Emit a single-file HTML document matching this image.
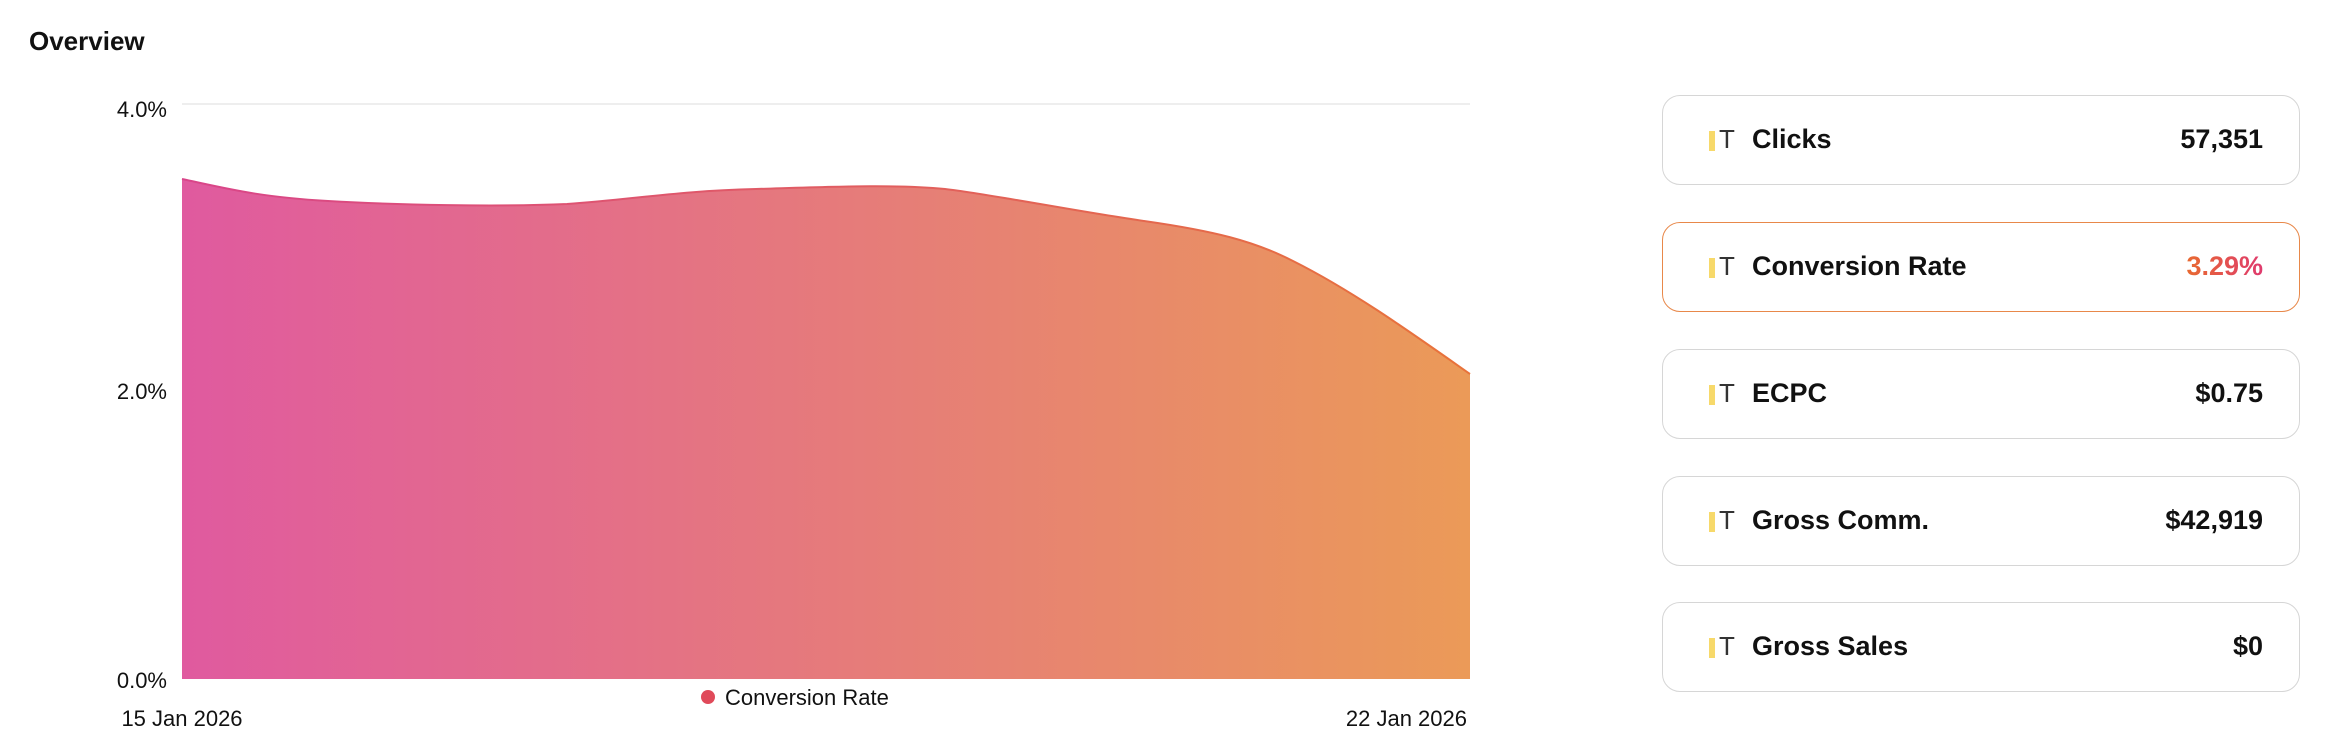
<!DOCTYPE html>
<html><head><meta charset="utf-8"><style>
body{margin:0;width:2340px;height:756px;background:#fff;font-family:"Liberation Sans",sans-serif;overflow:hidden;position:relative}
.t{position:absolute;color:#111}
.card{position:absolute;left:1662px;width:636px;height:88px;border:1.5px solid #d6d6d6;border-radius:18px;box-sizing:content-box}
.card .bar{position:absolute;left:46px;top:35px;width:6px;height:20px;background:#f7d96a}
.card .T{position:absolute;left:56px;top:28px;font-size:26px;color:#333}
.card .l{position:absolute;left:89px;top:28px;font-size:27px;font-weight:bold;color:#111}
.card .v{position:absolute;right:36px;top:28px;font-size:27px;font-weight:bold;color:#111}
</style></head><body>
<div class="t" style="left:29px;top:26px;font-size:26px;font-weight:bold">Overview</div>
<svg width="2340" height="756" style="position:absolute;left:0;top:0">
<defs><linearGradient id="g" x1="0" x2="1"><stop offset="0" stop-color="#e05a9f"/><stop offset="1" stop-color="#eb9a58"/></linearGradient>
<linearGradient id="g2" x1="0" x2="1"><stop offset="0" stop-color="#d9458a"/><stop offset="1" stop-color="#e8733a"/></linearGradient></defs>
<line x1="182" y1="104" x2="1470" y2="104" stroke="#eeeeee" stroke-width="2"/>
<path d="M182,179 C229,189 259,197 328,201 C398,205 497,207 567,204 C637,199 677,191 756,189 C826,187 895,184 945,189 C995,195 1074,211 1144,221 C1214,231 1254,241 1293,261 C1353,291 1413,334 1470,374 L1470,679 L182,679 Z" fill="url(#g)"/>
<path d="M182,179 C229,189 259,197 328,201 C398,205 497,207 567,204 C637,199 677,191 756,189 C826,187 895,184 945,189 C995,195 1074,211 1144,221 C1214,231 1254,241 1293,261 C1353,291 1413,334 1470,374" fill="none" stroke="url(#g2)" stroke-width="2"/>
<g font-family="Liberation Sans" font-size="22" fill="#111" text-anchor="end">
<text x="167" y="117">4.0%</text><text x="167" y="399">2.0%</text><text x="167" y="688">0.0%</text></g>
<circle cx="708" cy="697" r="7" fill="#e04a5a"/>
<text x="725" y="705" font-family="Liberation Sans" font-size="22" fill="#111">Conversion Rate</text>
<text x="182" y="726" font-family="Liberation Sans" font-size="22" fill="#111" text-anchor="middle">15 Jan 2026</text>
<text x="1467" y="726" font-family="Liberation Sans" font-size="22" fill="#111" text-anchor="end">22 Jan 2026</text>
</svg>
<div class="card" style="top:95px"><div class="bar"></div><div class="T">T</div><div class="l">Clicks</div><div class="v">57,351</div></div>
<div class="card" style="top:222px;border-color:#e8884a"><div class="bar"></div><div class="T">T</div><div class="l">Conversion Rate</div><div class="v" style="background:linear-gradient(90deg,#e86a30,#df3a6e);-webkit-background-clip:text;background-clip:text;color:transparent">3.29%</div></div>
<div class="card" style="top:349px"><div class="bar"></div><div class="T">T</div><div class="l">ECPC</div><div class="v">$0.75</div></div>
<div class="card" style="top:476px"><div class="bar"></div><div class="T">T</div><div class="l">Gross Comm.</div><div class="v">$42,919</div></div>
<div class="card" style="top:602px"><div class="bar"></div><div class="T">T</div><div class="l">Gross Sales</div><div class="v">$0</div></div>
</body></html>
